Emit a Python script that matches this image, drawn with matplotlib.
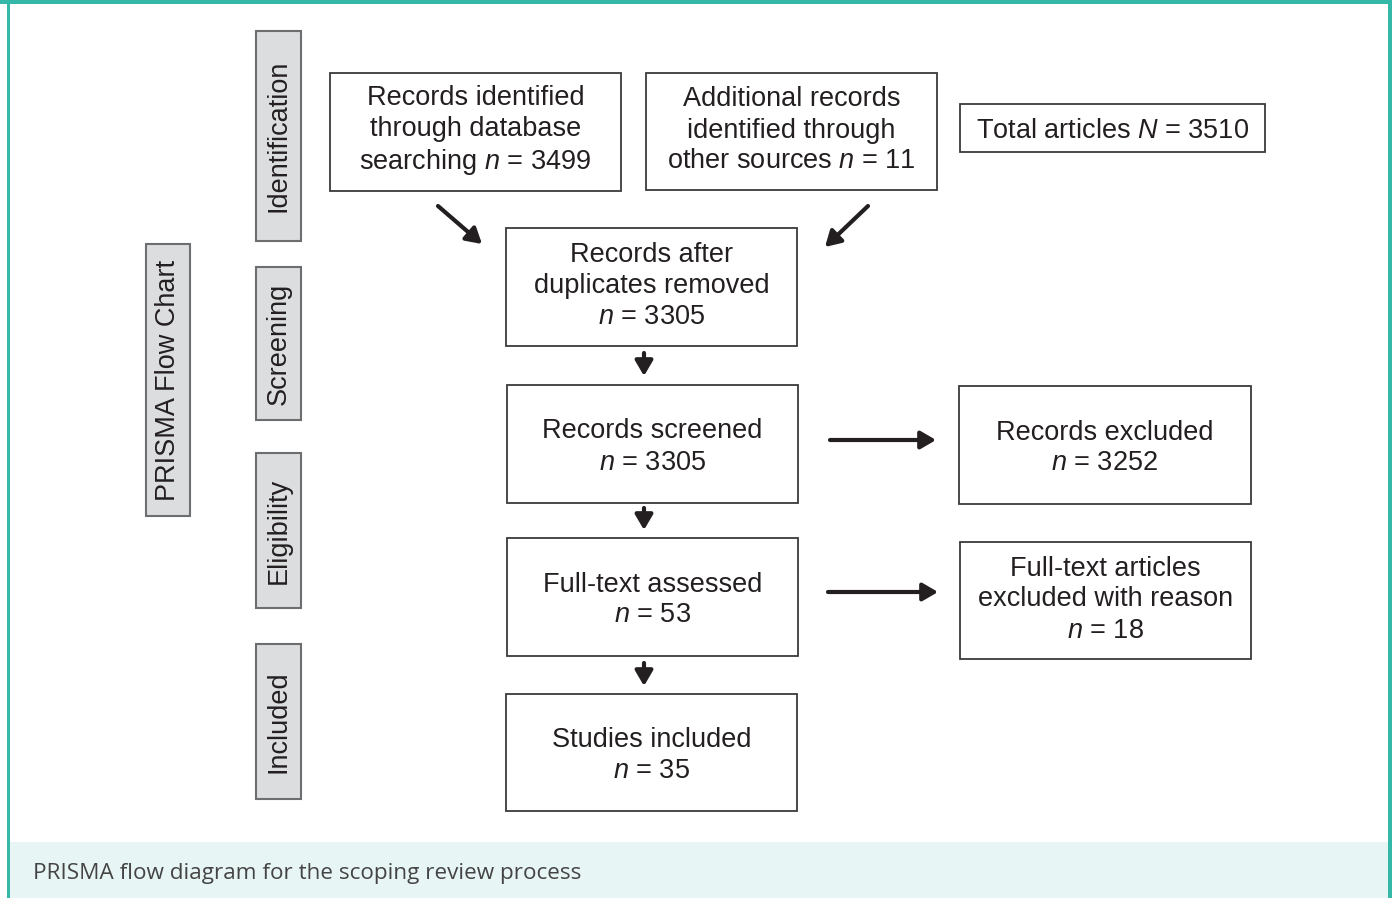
import matplotlib.pyplot as plt
from matplotlib.patches import Rectangle

plt.rcParams['font.family'] = 'Liberation Sans'
plt.rcParams['mathtext.fontset'] = 'custom'
plt.rcParams['mathtext.rm'] = 'Liberation Sans'
plt.rcParams['mathtext.it'] = 'Liberation Sans:italic'

# colours
teal = '#35b8a8'
teal_bg = '#e8f5f5'
ink = '#231f20'
grey_fill = '#dcdddf'
grey_edge = '#6d6e70'

# data
chart_title = 'PRISMA Flow Chart'
stages = ['Identification', 'Screening', 'Eligibility', 'Included']
box_text = ['Records identified\nthrough database\nsearching',
            'Additional records\nidentified through\nother sources',
            'Total articles',
            'Records after\nduplicates removed\n',
            'Records screened\n',
            'Records excluded\n',
            'Full-text assessed\n',
            'Full-text articles\nexcluded with reason\n',
            'Studies included\n']
box_var = ['n', 'n', 'N', 'n', 'n', 'n', 'n', 'n', 'n']
box_counts = [3499, 11, 3510, 3305, 3305, 3252, 53, 18, 35]
caption = 'PRISMA flow diagram for the scoping review process'

# layout in pixels (x0, y0, x1, y1)
stage_boxes = [(256, 31, 301, 241), (256, 267, 301, 420),
               (256, 453, 301, 608), (256, 644, 301, 799)]
title_box = (146, 244, 190, 516)
boxes = [(330, 73, 621, 191), (646, 73, 937, 190), (960, 104, 1265, 152),
         (506, 228, 797, 346), (507, 385, 798, 503), (959, 386, 1251, 504),
         (507, 538, 798, 656), (960, 542, 1251, 659), (506, 694, 797, 811)]
arrows = [((438, 206), (482, 244)), ((868, 206), (825, 247)),
          ((644, 353), (644, 376)), ((644, 508), (644, 530)),
          ((644, 663), (644, 686)),
          ((830, 440), (936, 440)), ((828, 592), (938, 592))]

W, H = 1392, 898
fig = plt.figure(figsize=(W / 100, H / 100), dpi=100)
ax = fig.add_axes([0, 0, 1, 1])
ax.set_xlim(0, W)
ax.set_ylim(H, 0)
ax.axis('off')

# frame and caption band
ax.add_patch(Rectangle((10, 842), 1378, 56, facecolor=teal_bg, edgecolor='none'))
ax.add_patch(Rectangle((0, 0), W, 4, facecolor=teal, edgecolor='none'))
ax.add_patch(Rectangle((7, 0), 3, H, facecolor=teal, edgecolor='none'))
ax.add_patch(Rectangle((1388, 0), 4, H, facecolor=teal, edgecolor='none'))
ax.text(33, 873, caption, fontsize=16.2, family='Open Sans', color='#444444',
        ha='left', va='center')


def grey_box(b, label, size=19.5):
    x0, y0, x1, y1 = b
    ax.add_patch(Rectangle((x0, y0), x1 - x0, y1 - y0, facecolor=grey_fill,
                           edgecolor=grey_edge, lw=1.5))
    ax.text((x0 + x1) / 2, (y0 + y1) / 2, label, rotation=90, fontsize=size,
            color=ink, ha='center', va='center')


grey_box(title_box, chart_title)
for b, s in zip(stage_boxes, stages):
    grey_box(b, s)

for b, t, v, c in zip(boxes, box_text, box_var, box_counts):
    x0, y0, x1, y1 = b
    ax.add_patch(Rectangle((x0, y0), x1 - x0, y1 - y0, facecolor='white',
                           edgecolor='#3a3a3a', lw=1.3))
    sep = '' if t.endswith('\n') else ' '
    dy = -1 if t.count('\n') == 2 else 3
    ax.text((x0 + x1) / 2, (y0 + y1) / 2 + dy, t + sep + '$' + v + '$ = ' + str(c),
            fontsize=19.5, color=ink, ha='center', va='center',
            linespacing=1.25)

for (p0, p1) in arrows:
    ax.annotate('', xy=p1, xytext=p0,
                arrowprops=dict(arrowstyle='-|>,head_length=0.65,head_width=0.38',
                                lw=3.0, color=ink, shrinkA=0, shrinkB=0,
                                mutation_scale=14))

fig.savefig('out.png', dpi=100)
